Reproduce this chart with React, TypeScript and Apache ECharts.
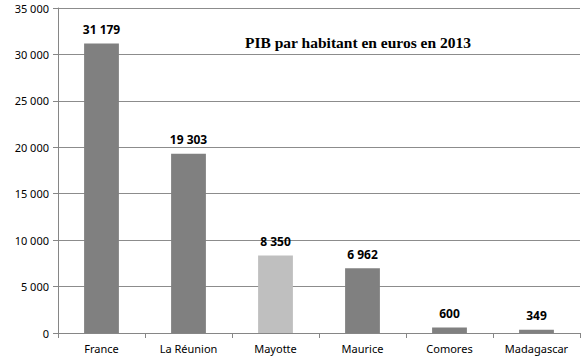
import React, { useEffect, useRef } from "react";
import * as echarts from "echarts";

const categories = ["France", "La Réunion", "Mayotte", "Maurice", "Comores", "Madagascar"];
const values = [31179, 19303, 8350, 6962, 600, 349];
const barColors = ["#808080", "#808080", "#bfbfbf", "#808080", "#808080", "#808080"];
const titleText = "PIB par habitant en euros en 2013";

const fmt = (v: number) => String(v).replace(/\B(?=(\d{3})+(?!\d))/g, " ");

export default function App() {
  const ref = useRef<HTMLDivElement>(null);
  useEffect(() => {
    document.body.style.margin = "0";
    const chart = echarts.init(ref.current!, null, { renderer: "svg" });
    chart.setOption({
      animation: false,
      backgroundColor: "#ffffff",
      title: {
        text: titleText,
        left: 353,
        top: 29,
        textAlign: "center",
        textStyle: { fontFamily: "Liberation Serif", fontWeight: "bold", fontSize: 15.5, color: "#000" },
      },
      grid: { left: 58, right: 3, top: 8, bottom: 31, containLabel: false },
      xAxis: {
        type: "category",
        data: categories,
        axisLine: { show: true, lineStyle: { color: "#868686", width: 1 } },
        axisTick: { show: true, length: 5, lineStyle: { color: "#868686" } },
        axisLabel: { color: "#000", fontFamily: "Noto Sans", fontSize: 11, margin: 10 },
      },
      yAxis: {
        type: "value",
        min: 0,
        max: 35000,
        interval: 5000,
        axisLine: { show: true, lineStyle: { color: "#868686", width: 1 } },
        axisTick: { show: true, length: 5, lineStyle: { color: "#868686" } },
        splitLine: { show: true, lineStyle: { color: "#8c8c8c", width: 1 } },
        axisLabel: { color: "#000", fontFamily: "Noto Sans", fontSize: 11, margin: 9, formatter: (v: number) => fmt(v) },
      },
      series: [
        {
          type: "bar",
          barWidth: "40%",
          data: values.map((v, i) => ({ value: v, itemStyle: { color: barColors[i] } })),
          label: {
            show: true,
            position: "top",
            distance: 8,
            color: "#000",
            fontFamily: "Noto Sans",
            fontWeight: "bold",
            fontSize: 12,
            formatter: (p: any) => fmt(p.value),
          },
        },
      ],
    });
    return () => chart.dispose();
  }, []);
  return <div ref={ref} style={{ position: "absolute", left: 0, top: 0, width: 583, height: 364 }} />;
}
